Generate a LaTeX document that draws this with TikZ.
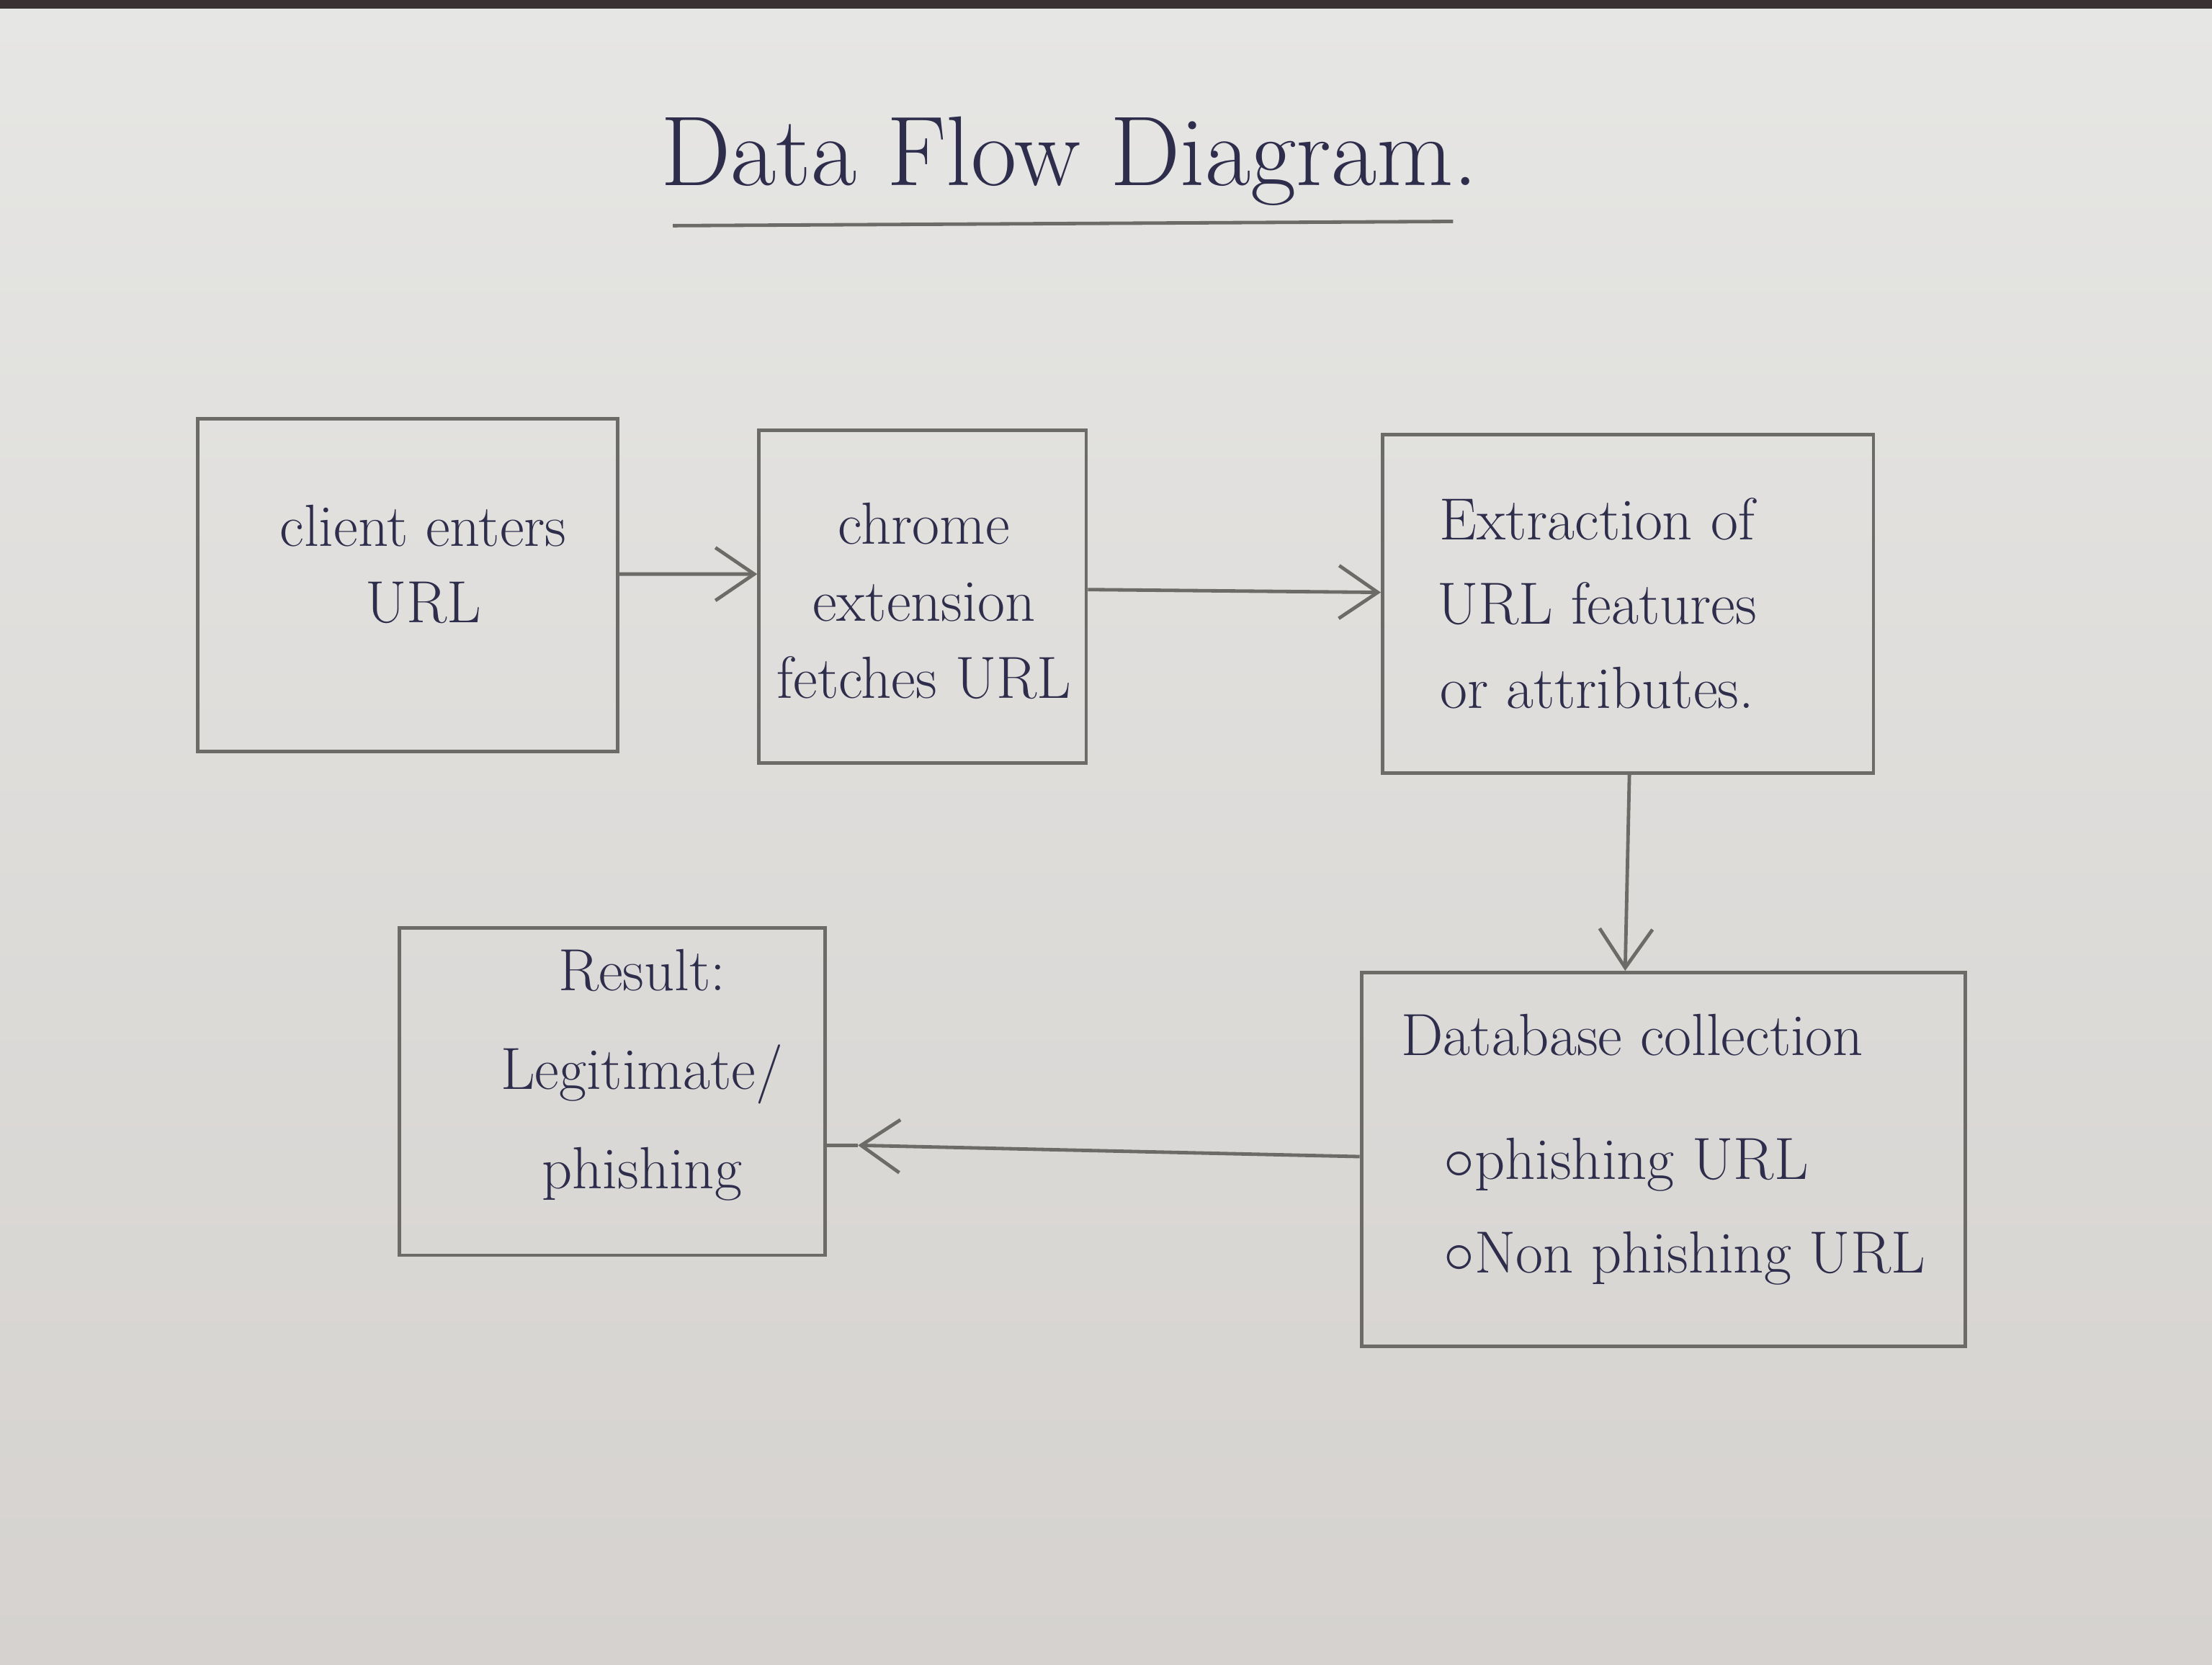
\documentclass[tikz,border=0pt]{standalone}
\usetikzlibrary{arrows.meta}
\definecolor{papertop}{HTML}{E6E6E4}
\definecolor{paperbot}{HTML}{D5D2CF}
\definecolor{pencil}{HTML}{6C6B67}
\definecolor{ink}{HTML}{2E2E4C}
\definecolor{edge}{HTML}{3A3232}
\begin{document}
\begin{tikzpicture}[x=0.02cm,y=-0.02cm,
  box/.style={draw=pencil,line width=1.4pt,inner sep=0pt},
  arr/.style={draw=pencil,line width=1.4pt,-{Straight Barb[length=0.55cm,width=0.75cm]}},
  plain/.style={draw=pencil,line width=1.4pt},
  lbl/.style={text=ink,align=center,inner sep=0pt},
  ]
\useasboundingbox (0,0) rectangle (1568,1180);
\shade[top color=papertop,bottom color=paperbot] (0,0) rectangle (1568,1180);
\fill[edge] (0,0) rectangle (1568,6);

% title
\node[lbl,font=\fontsize{40}{44}\selectfont] (title) at (758,114) {Data Flow Diagram.};
\coordinate (u1) at (477,160);
\coordinate (u2) at (1030,157);
\draw[plain] (u1) -- (u2);

% boxes
\node[box,minimum width=5.96cm,minimum height=4.72cm] (b1) at (289,415) {};
\node[box,minimum width=4.64cm,minimum height=4.72cm] (b2) at (654,423) {};
\node[box,minimum width=6.96cm,minimum height=4.80cm] (b3) at (1154,428) {};
\node[box,minimum width=8.56cm,minimum height=5.30cm] (b4) at (1179,822) {};
\node[box,minimum width=6.04cm,minimum height=4.64cm] (b5) at (434,774) {};

% texts
\node[lbl,font=\fontsize{24}{31}\selectfont] (t1) at (300,400) {client enters\\URL};
\node[lbl,font=\fontsize{24}{31}\selectfont] (t2) at (655,426) {chrome\\extension\\fetches URL};
\node[lbl,font=\fontsize{24}{34}\selectfont] (t3) at (1132,428) {Extraction of\\URL features\\or attributes.};
\node[lbl,align=left,anchor=west,font=\fontsize{24}{38}\selectfont] (t4) at (993,815)
  {Database collection\\[0.42cm]
   \hspace*{0.6cm}$\circ$phishing URL\\
   \hspace*{0.6cm}$\circ$Non phishing URL};
\node[lbl,font=\fontsize{24}{40}\selectfont] (t5) at (455,762) {Result:\\Legitimate/\\phishing};

% connectors
\draw[arr] ([yshift=0.16cm]b1.east) -- ([yshift=0.32cm]b2.west);
\draw[arr] ([yshift=0.10cm]b2.east) -- ([yshift=0.16cm]b3.west);
\draw[arr] ([xshift=0.02cm]b3.south) -- ([xshift=-0.54cm]b4.north);
\coordinate (tip4) at ([xshift=0.44cm,yshift=-0.76cm]b5.east);
\draw[arr] ([yshift=0.04cm]b4.west) -- (tip4);
\draw[plain] (tip4) -- ([yshift=-0.76cm]b5.east);
\end{tikzpicture}
\end{document}
